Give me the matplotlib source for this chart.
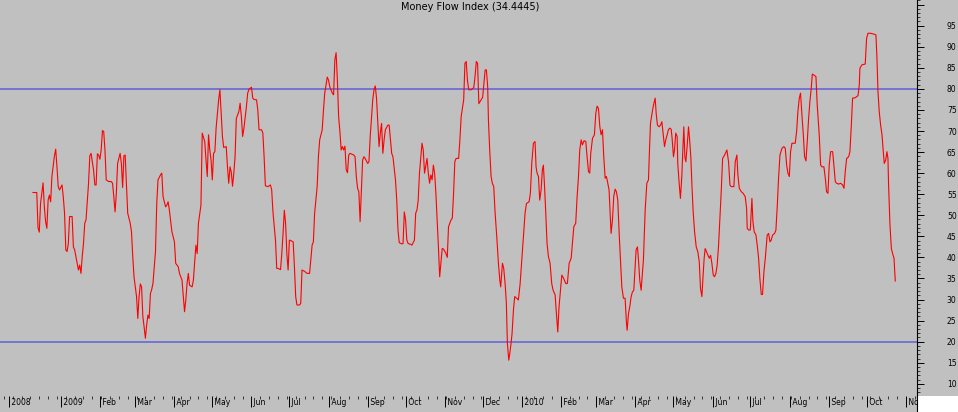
import matplotlib
matplotlib.use('Agg')

import numpy as np
import pandas as pd
import matplotlib.pyplot as plt
import matplotlib.dates as mdates
from matplotlib.ticker import MultipleLocator, FuncFormatter
from matplotlib.patches import Rectangle
from matplotlib.lines import Line2D

plt.rcParams['font.family'] = 'DejaVu Sans'

# Money Flow Index, days counted from the first bar (2008-12-10)
start = '2008-12-10'
day = [0, 3, 4, 5, 6, 8, 9, 10, 11, 12, 13, 14, 15, 17, 18, 19, 20, 21, 23, 24,
       25, 26, 27, 28, 29, 31, 32, 33, 35, 36, 37, 38, 39, 40, 41, 42, 44, 45, 46, 48,
       49, 50, 51, 52, 53, 54, 55, 56, 57, 58, 60, 62, 63, 64, 65, 66, 67, 69, 70, 71,
       72, 73, 74, 75, 77, 78, 79, 80, 82, 83, 84, 85, 86, 87, 88, 89, 90, 91, 92, 93,
       94, 95, 97, 98, 99, 101, 102, 103, 105, 106, 107, 108, 110, 112, 113, 115, 116, 118, 119, 120,
       121, 122, 123, 124, 126, 127, 128, 129, 130, 131, 133, 134, 135, 136, 137, 138, 139, 140, 141, 142,
       143, 144, 145, 147, 148, 149, 150, 151, 153, 154, 155, 156, 157, 158, 159, 160, 161, 163, 164, 165,
       166, 167, 169, 170, 171, 173, 174, 175, 177, 178, 179, 181, 182, 183, 184, 186, 188, 189, 190, 192,
       193, 194, 196, 197, 198, 199, 200, 201, 202, 203, 204, 206, 207, 208, 209, 211, 212, 213, 215, 217,
       219, 221, 222, 223, 225, 226, 227, 229, 230, 231, 233, 234, 235, 237, 238, 239, 240, 241, 242, 243,
       244, 245, 246, 247, 248, 249, 250, 251, 254, 255, 256, 257, 258, 259, 260, 261, 262, 263, 265, 266,
       267, 269, 270, 271, 272, 273, 274, 275, 276, 277, 278, 279, 281, 282, 283, 284, 285, 287, 288, 289,
       290, 292, 293, 294, 295, 296, 297, 299, 300, 302, 303, 304, 305, 306, 308, 309, 310, 312, 313, 314,
       315, 316, 317, 318, 319, 320, 321, 322, 324, 325, 327, 328, 329, 331, 332, 333, 334, 335, 337, 338,
       339, 341, 342, 343, 344, 345, 347, 349, 350, 351, 352, 353, 354, 355, 356, 357, 358, 359, 360, 360.6,
       361.6, 362.7, 363.7, 364.8, 365.9, 367.2, 368.5, 369.6, 370.3, 371.7, 372.7, 373.8, 374.8, 375.6, 376.7, 377.5, 378.5, 379.3, 380.4, 381.4,
       383.0, 384.3, 385.7, 387.0, 388.3, 389.6, 390.7, 392.8, 393.8, 394.9, 396.2, 397.5, 398.3, 399.1, 400.2, 401.2, 402.3, 403.3, 404.1, 404.9,
       406.0, 407.0, 408.1, 409.4, 410.7, 411.8, 413.4, 414.4, 415.5, 416.5, 417.6, 418.7, 420.2, 421.8, 423.1, 424.5, 426.1, 427.1, 428.2, 429.7,
       430.8, 431.9, 432.9, 434.0, 435.0, 436.3, 437.7, 438.7, 439.8, 440.8, 441.6, 443.0, 444.5, 445.6, 446.6, 447.7, 448.8, 449.8, 450.9, 451.9,
       453.0, 454.0, 455.1, 456.1, 457.2, 457.7, 458.8, 459.8, 460.9, 461.9, 463.0, 464.1, 465.1, 466.2, 467.5, 468.8, 469.9, 470.4, 471.5, 472.5,
       473.6, 474.6, 475.7, 476.7, 477.5, 478.6, 479.4, 480.4, 481.5, 482.5, 483.3, 484.7, 486.0, 487.3, 488.1, 488.9, 489.9, 491.3, 492.6, 493.4,
       494.4, 495.7, 496.8, 497.9, 498.9, 500.0, 501.0, 502.1, 503.1, 504.2, 505.3, 506.0, 507.1, 507.9, 508.9, 510.0, 510.5, 511.6, 512.6, 513.7,
       514.5, 515.3, 516.1, 516.9, 517.9, 519.0, 519.8, 520.9, 521.7, 522.7, 523.8, 525.1, 526.4, 527.5, 528.5, 529.6, 530.4, 531.4, 532.2, 533.3,
       534.4, 535.4, 536.5, 537.5, 538.6, 539.6, 540.7, 541.7, 542.8, 543.9, 544.9, 546.0, 547.6, 549.4, 550.7, 551.8, 552.8, 554.9, 556.0, 557.3,
       558.1, 559.2, 560.8, 562.3, 563.9, 565.0, 565.5, 566.6, 567.9, 569.2, 570.0, 571.0, 572.4, 573.4, 574.5, 575.5, 576.6, 577.6, 578.7, 579.8,
       581.3, 582.4, 583.5, 584.5, 585.6, 587.2, 588.2, 589.3, 590.3, 591.4, 593.0, 594.5, 595.6, 596.7, 597.7, 598.8, 599.8, 600.9, 603.5, 604.6,
       605.6, 606.7, 607.7, 608.8, 609.9, 610.9, 612.0, 613.0, 614.1, 615.1, 616.2, 617.0, 618.3, 619.9, 620.9, 622.5, 623.6, 624.6, 626.2, 627.3,
       628.3, 629.4, 630.4, 631.5, 633.1, 634.1, 635.2, 636.3, 637.8, 639.4, 641.0, 642.1, 643.1, 644.2, 645.8, 646.8, 647.9, 648.9, 651.0, 653.2,
       654.2, 654.7, 656.3, 658.9, 660.0, 661.1, 663.2, 665.8, 667.4, 668.2, 669.0, 670.0, 671.1, 672.2, 673.2, 674.0, 675.1, 676.1, 676.9, 677.4,
       678.5, 679.6, 680.6, 681.7, 682.7]
mfi = [55.4, 55.4, 47.0, 46.0, 52.8, 57.7, 52.0, 48.5, 46.9, 53.6, 54.8, 53.2, 59.2, 64.1, 65.7, 61.5, 56.8, 56.0, 57.2, 54.4,
       50.5, 41.8, 41.4, 43.3, 49.7, 49.7, 42.5, 41.8, 38.6, 37.0, 38.2, 36.2, 40.2, 43.3, 48.1, 48.9, 57.6, 64.1, 64.7, 60.7,
       57.2, 57.2, 64.6, 64.3, 63.3, 65.5, 70.1, 69.9, 65.5, 58.4, 58.0, 58.0, 57.6, 54.4, 50.8, 55.2, 62.3, 64.7, 62.3, 56.6,
       64.1, 64.3, 57.6, 50.5, 48.1, 46.1, 40.2, 35.4, 30.7, 25.5, 30.7, 33.7, 33.0, 25.9, 23.5, 20.8, 23.9, 26.3, 25.5, 31.4,
       32.4, 33.8, 41.4, 52.8, 58.4, 59.6, 60.0, 54.4, 52.0, 52.4, 53.2, 51.2, 46.1, 43.7, 38.6, 37.8, 36.2, 34.6, 30.7, 27.1,
       29.9, 33.8, 36.2, 33.4, 33.0, 34.6, 38.6, 42.9, 40.9, 48.1, 52.4, 69.5, 68.5, 67.5, 63.1, 59.2, 69.1, 65.5, 63.1, 58.4,
       64.7, 65.1, 70.7, 77.4, 79.8, 74.2, 68.7, 66.1, 66.3, 61.5, 57.6, 61.5, 60.3, 56.9, 59.9, 63.9, 73.0, 74.6, 76.6, 73.4,
       68.7, 70.6, 75.8, 79.0, 79.9, 80.4, 77.8, 77.5, 77.4, 75.0, 70.3, 70.3, 69.5, 63.9, 57.0, 56.8, 57.2, 56.0, 50.8, 44.1,
       37.4, 37.4, 37.1, 40.9, 45.7, 51.2, 48.1, 40.9, 37.0, 44.1, 44.0, 43.7, 37.8, 30.7, 28.7, 28.7, 29.1, 37.0, 36.7, 36.2,
       36.2, 42.9, 43.7, 50.5, 56.8, 63.9, 67.9, 70.3, 75.0, 79.0, 82.8, 82.1, 80.5, 79.0, 78.6, 86.9, 88.6, 82.1, 73.4, 69.9,
       65.5, 66.3, 65.5, 66.4, 60.8, 60.1, 64.3, 64.7, 64.3, 63.9, 59.2, 56.4, 55.6, 48.5, 56.0, 63.1, 63.9, 63.5, 62.3, 62.7,
       68.7, 77.4, 79.8, 80.7, 77.8, 71.8, 66.3, 69.5, 71.8, 64.7, 67.9, 70.3, 71.4, 71.4, 67.9, 64.7, 63.9, 58.4, 53.6, 46.5,
       43.5, 43.2, 43.3, 50.8, 48.9, 44.1, 43.3, 43.1, 42.9, 44.1, 50.5, 51.2, 53.6, 60.0, 67.1, 65.5, 60.0, 63.5, 60.0, 57.6,
       59.6, 58.4, 61.9, 60.0, 55.2, 48.9, 42.5, 35.4, 42.1, 42.0, 40.9, 40.0, 47.3, 48.9, 49.3, 55.2, 62.7, 63.5, 63.5, 67.9,
       73.4, 77.4, 86.1, 86.5, 82.0, 79.8, 79.8, 80.3, 83.0, 86.5, 86.1, 76.5, 77.0, 77.5, 78.0, 81.3, 84.5, 84.5, 80.5, 72.6,
       65.5, 59.2, 57.6, 56.8, 50.5, 44.9, 38.6, 34.6, 33.0, 38.6, 37.4, 33.8, 29.1, 19.6, 15.6, 17.2, 19.6, 21.9, 27.5, 30.7,
       30.3, 29.9, 33.8, 39.4, 44.9, 50.5, 52.8, 53.2, 55.2, 62.3, 67.1, 67.5, 61.5, 60.0, 59.2, 53.6, 56.0, 60.8, 61.9, 57.6,
       50.5, 43.3, 40.2, 38.6, 33.8, 32.2, 31.1, 26.7, 22.3, 28.3, 32.2, 35.8, 35.0, 33.8, 33.8, 38.6, 39.8, 43.3, 47.3, 48.1,
       54.4, 59.2, 65.5, 67.9, 66.7, 67.7, 67.5, 63.9, 60.4, 60.0, 64.7, 68.3, 69.1, 74.2, 75.9, 75.4, 71.0, 69.1, 70.3, 63.9,
       58.8, 59.2, 57.6, 56.0, 48.9, 45.7, 48.9, 54.4, 56.2, 55.6, 53.6, 45.7, 39.4, 33.0, 30.3, 30.3, 24.3, 22.7, 26.7, 28.3,
       30.7, 31.8, 32.2, 37.8, 41.8, 42.5, 39.4, 34.6, 32.2, 36.2, 39.4, 51.3, 57.6, 58.4, 65.5, 71.8, 73.8, 76.2, 77.8, 74.2,
       71.4, 71.0, 71.4, 72.2, 69.5, 66.3, 67.9, 69.1, 70.3, 70.7, 70.4, 68.3, 63.9, 65.5, 69.5, 68.7, 62.3, 57.6, 54.0, 59.2,
       65.5, 71.0, 63.9, 62.7, 66.3, 71.0, 68.3, 63.5, 57.2, 50.8, 46.1, 42.5, 41.3, 39.0, 32.6, 30.7, 35.0, 39.8, 42.1, 41.3,
       40.5, 39.8, 40.5, 38.6, 35.8, 35.4, 36.2, 38.2, 42.9, 49.3, 55.6, 63.5, 64.3, 65.5, 62.7, 57.2, 56.8, 56.8, 62.7, 64.3,
       59.6, 56.4, 55.6, 55.2, 54.4, 51.6, 46.9, 46.5, 46.5, 54.0, 48.5, 46.1, 45.3, 42.9, 39.8, 35.0, 31.2, 31.2, 36.6, 39.8,
       45.3, 45.7, 43.7, 44.1, 45.3, 45.7, 46.5, 52.4, 58.8, 64.3, 65.9, 66.3, 65.9, 61.9, 60.0, 59.2, 65.1, 67.1, 67.1, 69.9,
       74.6, 77.8, 79.0, 73.8, 69.1, 63.9, 62.9, 67.5, 73.0, 77.0, 80.2, 83.5, 83.3, 82.9, 76.2, 69.1, 61.9, 61.5, 61.5, 58.8,
       55.6, 55.2, 61.9, 65.1, 65.1, 61.9, 58.0, 57.6, 57.4, 57.6, 57.2, 56.4, 60.4, 63.5, 63.9, 65.1, 71.4, 77.8, 77.9, 78.4,
       80.9, 84.9, 85.7, 85.9, 92.0, 93.2, 93.2, 93.0, 92.8, 87.3, 79.4, 74.6, 71.4, 69.1, 65.1, 62.3, 63.1, 65.1, 63.5, 57.2,
       47.7, 42.1, 40.9, 39.8, 34.4]

# axis labelling
levels = [80, 20]
first_label_date = '2008-11-21'
month_starts = pd.date_range('2009-01-01', '2010-11-01', freq='MS')
tick_dates = [pd.Timestamp(first_label_date)] + list(month_starts)
tick_labels = ['2008'] + [str(d.year) if d.month == 1 else d.strftime('%b') for d in month_starts]
title = 'Money Flow Index (34.4445)'

bg = '#c0c0c0'
W, H = 958, 412

fig = plt.figure(figsize=(W / 100, H / 100), dpi=100, facecolor=bg)
ax = fig.add_axes([0, 16 / H, 917 / W, 396 / H])
ax.set_facecolor(bg)

base = mdates.date2num(pd.Timestamp(start))
x = base + np.array(day, dtype=float)

for lv in levels:
    ax.axhline(lv, color='#6e6ed6', lw=1.3, zorder=1)
ax.plot(x, mfi, color='#ff0000', lw=0.8, zorder=2)

ax.set_xlim(base - 26.1, base + 699.9)
ax.set_ylim(7.1, 101.1)

for s in ['left', 'top', 'bottom']:
    ax.spines[s].set_visible(False)
ax.spines['right'].set_color('black')
ax.spines['right'].set_linewidth(0.8)

# right hand value axis
ax.yaxis.tick_right()
ax.yaxis.set_major_locator(MultipleLocator(5))
ax.yaxis.set_minor_locator(MultipleLocator(1))
ax.yaxis.set_major_formatter(FuncFormatter(lambda v, p: f'{v:.0f}' if 10 <= v <= 95 else ''))
ax.tick_params(axis='y', which='major', direction='out', length=5, width=0.7,
               pad=16.5, labelsize=5.5, colors='black')
ax.tick_params(axis='y', which='minor', direction='out', length=2.2, width=0.5)

# date axis along the bottom
ax.set_xticks(mdates.date2num(tick_dates))
ax.set_xticklabels([' ' + t for t in tick_labels], ha='left')
ax.xaxis.set_minor_locator(mdates.WeekdayLocator(byweekday=mdates.MO))
ax.tick_params(axis='x', which='major', direction='out', length=8, width=0.7,
               pad=-6.5, labelsize=5.5, colors='black')
ax.tick_params(axis='x', which='minor', direction='out', length=2.2, width=0.5)

fig.text(470 / W, 1 - 7 / H, title, ha='center', va='center', fontsize=7)

# white corner under the value axis
fig.add_artist(Rectangle((917 / W, 0), 41 / W, 16 / H, transform=fig.transFigure,
                         facecolor='white', edgecolor='none', zorder=5))
fig.add_artist(Line2D([917 / W, 917 / W], [0, 16 / H], transform=fig.transFigure,
                      color='black', lw=0.8, zorder=6))

fig.savefig('out.png', dpi=100, facecolor=bg)
